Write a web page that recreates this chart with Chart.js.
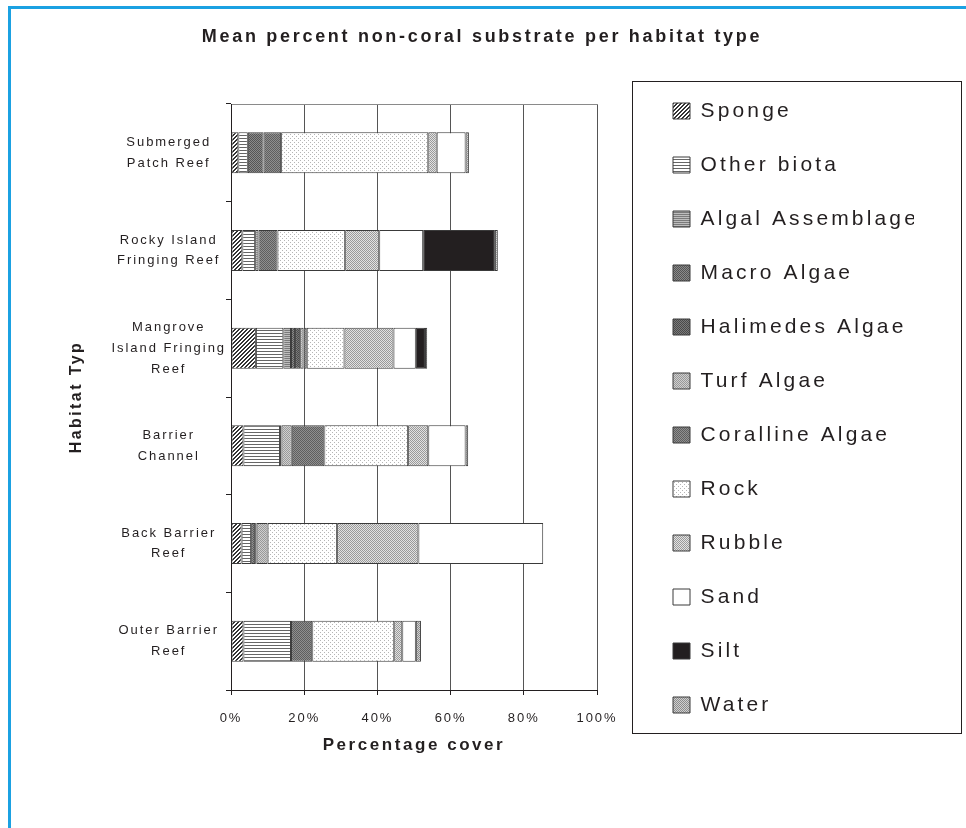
<!DOCTYPE html>
<html>
<head>
<meta charset="utf-8">
<title>Mean percent non-coral substrate per habitat type</title>
<script src="https://cdn.jsdelivr.net/npm/chart.js@4.4.1/dist/chart.umd.min.js"></script>
<style>
    html, body { margin: 0; padding: 0; background: #fff; }
    .page { position: relative; width: 966px; height: 828px; overflow: hidden; }
    .frame { position: absolute; left: 8px; top: 6px; right: 0; bottom: 0; border-left: 3px solid #1ba1e2; border-top: 3px solid #1ba1e2; }
    #substrateChart { position: absolute; left: 0; top: 0; }
</style>
</head>
<body>
<div class="page">
    <div class="frame"></div>
    <canvas id="substrateChart" width="966" height="828"></canvas>
</div>
<script>
// --- данные (проценты покрытия) ---
const habitats = [
    ['Submerged', 'Patch Reef'],
    ['Rocky Island', 'Fringing Reef'],
    ['Mangrove', 'Island Fringing', 'Reef'],
    ['Barrier', 'Channel'],
    ['Back Barrier', 'Reef'],
    ['Outer Barrier', 'Reef']
];
const xTickLabels = ['0%', '20%', '40%', '60%', '80%', '100%'];

const sponge          = [2.0, 3.1, 6.8, 3.4, 2.9, 3.4];
const otherBiota      = [2.6, 3.5, 7.5, 10.0, 2.6, 13.0];
const algalAssemblage = [0, 0.9, 2.1, 0.4, 0, 0];
const macroAlgae      = [4.3, 0, 1.1, 0, 1.1, 0];
const halimedesAlgae  = [0, 0, 1.4, 0, 0.4, 0];
const turfAlgae       = [0, 0, 0.9, 2.8, 3.0, 0];
const corallineAlgae  = [4.8, 5.2, 0.9, 8.9, 0, 5.8];
const rock            = [40.2, 18.5, 10.3, 22.9, 19.0, 22.4];
const rubble          = [2.3, 9.3, 13.4, 5.5, 22.2, 2.2];
const sand            = [7.9, 12.0, 6.1, 10.2, 34.1, 3.7];
const silt            = [0, 19.6, 2.5, 0, 0, 0];
const water           = [0.9, 0.8, 0.6, 0.7, 0, 1.4];

const TEXT = '#231f20';
const FONT = "'Liberation Sans', Arial, sans-serif";

const canvas = document.getElementById('substrateChart');
const ctx = canvas.getContext('2d');

// разрядка букв как в оригинале: растёт вместе с кеглем
const fontProp = Object.getOwnPropertyDescriptor(CanvasRenderingContext2D.prototype, 'font');
Object.defineProperty(ctx, 'font', {
    get() { return fontProp.get.call(this); },
    set(v) {
        fontProp.set.call(this, v);
        const m = /(\d+(?:\.\d+)?)px/.exec(v);
        this.letterSpacing = m ? (parseFloat(m[1]) * 0.15).toFixed(2) + 'px' : '0px';
    }
});

/**
 * Маленькая плитка-штриховка для заливки сегментов.
 */
function makePattern(bg, fg, size, paint) {
    const tile = document.createElement('canvas');
    tile.width = tile.height = size;
    const g = tile.getContext('2d');
    g.fillStyle = bg;
    g.fillRect(0, 0, size, size);
    g.fillStyle = fg;
    paint(g, size);
    return ctx.createPattern(tile, 'repeat');
}
const checker = (g) => { g.fillRect(0, 0, 1, 1); g.fillRect(1, 1, 1, 1); };

const fills = {
    sponge: makePattern('#fff', '#333', 4, (g) => {
        for (let i = 0; i < 4; i++) { g.fillRect(i, 3 - i, 1, 1); g.fillRect((i + 1) % 4, 3 - i, 1, 1); }
    }),
    otherBiota: makePattern('#fff', '#666', 3, (g) => g.fillRect(0, 0, 3, 1)),
    algalAssemblage: makePattern('#bdbdbd', '#7a7a7a', 2, (g) => g.fillRect(0, 0, 2, 1)),
    macroAlgae: makePattern('#8a8a8a', '#555', 2, checker),
    halimedesAlgae: makePattern('#7a7a7a', '#4a4a4a', 2, checker),
    turfAlgae: makePattern('#cfcfcf', '#999', 2, checker),
    corallineAlgae: makePattern('#8f8f8f', '#5f5f5f', 2, checker),
    rock: makePattern('#fff', '#b5b5b5', 4, (g) => { g.fillRect(0, 0, 1, 1); g.fillRect(2, 2, 1, 1); }),
    rubble: makePattern('#e2e2e2', '#9a9a9a', 2, checker),
    sand: '#ffffff',
    silt: TEXT,
    water: makePattern('#d0d0d0', '#8c8c8c', 2, checker)
};

const series = [
    { label: 'Sponge', data: sponge, fill: fills.sponge },
    { label: 'Other biota', data: otherBiota, fill: fills.otherBiota },
    { label: 'Algal Assemblage', data: algalAssemblage, fill: fills.algalAssemblage },
    { label: 'Macro Algae', data: macroAlgae, fill: fills.macroAlgae },
    { label: 'Halimedes Algae', data: halimedesAlgae, fill: fills.halimedesAlgae },
    { label: 'Turf Algae', data: turfAlgae, fill: fills.turfAlgae },
    { label: 'Coralline Algae', data: corallineAlgae, fill: fills.corallineAlgae },
    { label: 'Rock', data: rock, fill: fills.rock },
    { label: 'Rubble', data: rubble, fill: fills.rubble },
    { label: 'Sand', data: sand, fill: fills.sand },
    { label: 'Silt', data: silt, fill: fills.silt },
    { label: 'Water', data: water, fill: fills.water }
];

// рамка вокруг легенды
const legendFrame = {
    id: 'legendFrame',
    afterDraw(chart) {
        const { ctx: c, legend, chartArea } = chart;
        c.save();
        c.strokeStyle = TEXT;
        c.lineWidth = 1;
        c.strokeRect(legend.left - 7.5, chartArea.top - 22.5, chart.width - legend.left + 3, chartArea.bottom - chartArea.top + 66);
        c.restore();
    }
};

new Chart(ctx, {
    type: 'bar',
    data: {
        labels: habitats,
        datasets: series.map(s => ({
            label: s.label,
            data: s.data,
            backgroundColor: s.fill,
            borderColor: '#3a3a3a',
            borderWidth: 1,
            borderSkipped: false,
            barPercentage: 0.42,
            categoryPercentage: 1
        }))
    },
    options: {
        indexAxis: 'y',
        responsive: false,
        animation: false,
        devicePixelRatio: 1,
        layout: { padding: { left: 50, right: 52, top: 0, bottom: 12 } },
        scales: {
            x: {
                stacked: true,
                min: 0,
                max: 100,
                ticks: {
                    stepSize: 20,
                    padding: 16,
                    color: TEXT,
                    font: { family: FONT, size: 13 },
                    callback: (v, i) => xTickLabels[i]
                },
                grid: { color: '#555', tickColor: TEXT, tickLength: 5 },
                border: { color: TEXT },
                title: {
                    display: true,
                    text: 'Percentage cover',
                    color: TEXT,
                    font: { family: FONT, size: 17, weight: 'bold' },
                    padding: { top: 0, bottom: 60 }
                },
                afterFit: (s) => { s.height = 126; }
            },
            x2: {
                type: 'linear',
                position: 'top',
                min: 0,
                max: 100,
                ticks: { display: false },
                grid: { display: false, drawTicks: false },
                border: { display: true, color: '#8a8a8a' }
            },
            y: {
                stacked: true,
                ticks: {
                    crossAlign: 'center',
                    padding: 0,
                    color: TEXT,
                    font: { family: FONT, size: 13, lineHeight: 1.6 }
                },
                grid: { drawOnChartArea: false, offset: true, tickLength: 5, color: TEXT },
                border: { color: TEXT },
                title: {
                    display: true,
                    text: 'Habitat Typ',
                    color: TEXT,
                    font: { family: FONT, size: 16, weight: 'bold' },
                    padding: { top: 17, bottom: 0 }
                },
                afterFit: (s) => { s.width = 181; }
            },
            y2: {
                type: 'category',
                position: 'right',
                ticks: { display: false },
                grid: { display: false, drawTicks: false },
                border: { display: false },
                afterFit: (s) => { s.width = 43; }
            }
        },
        plugins: {
            title: {
                display: true,
                text: 'Mean percent non-coral substrate per habitat type',
                color: TEXT,
                font: { family: FONT, size: 18, weight: 'bold' },
                padding: { top: 26.2, bottom: 56.2 }
            },
            legend: {
                position: 'right',
                align: 'center',
                maxWidth: 274,
                labels: {
                    boxWidth: 17,
                    boxHeight: 16,
                    padding: 33,
                    color: TEXT,
                    font: { family: FONT, size: 21 }
                }
            },
            tooltip: { enabled: false }
        }
    },
    plugins: [legendFrame]
});
</script>
</body>
</html>
